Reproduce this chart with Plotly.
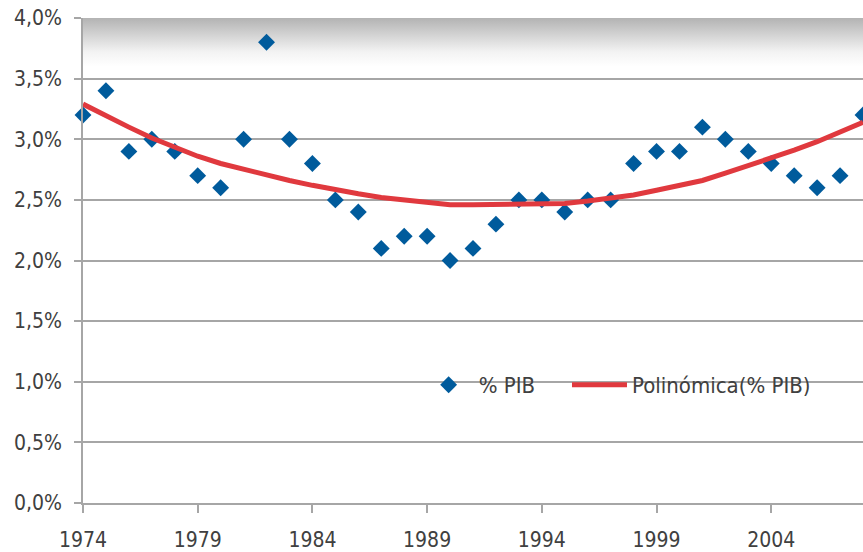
import plotly.graph_objects as go

years = list(range(1974, 2009))
pib = [3.2, 3.4, 2.9, 3.0, 2.9, 2.7, 2.6, 3.0, 3.8, 3.0,
       2.8, 2.5, 2.4, 2.1, 2.2, 2.2, 2.0, 2.1, 2.3, 2.5,
       2.5, 2.4, 2.5, 2.5, 2.8, 2.9, 2.9, 3.1, 3.0, 2.9,
       2.8, 2.7, 2.6, 2.7, 3.2]
trend = [3.29, 3.19, 3.10, 3.01, 2.93, 2.86, 2.80, 2.75, 2.70, 2.66,
         2.62, 2.58, 2.55, 2.52, 2.50, 2.48, 2.46, 2.46, 2.46, 2.46,
         2.46, 2.47, 2.49, 2.51, 2.54, 2.58, 2.62, 2.66, 2.72, 2.78,
         2.84, 2.91, 2.98, 3.06, 3.14]
band_x = [1974, 2008, 2008, 1974, 1974]
band_y = [3.6, 3.6, 4.0, 4.0, 3.6]
x_ticks = [1974, 1979, 1984, 1989, 1994, 1999, 2004]
y_ticks = [0, 0.5, 1.0, 1.5, 2.0, 2.5, 3.0, 3.5, 4.0]
y_labels = ["0,0%", "0,5%", "1,0%", "1,5%", "2,0%", "2,5%", "3,0%", "3,5%", "4,0%"]

FONT = "DejaVu Sans Condensed, Liberation Sans, sans-serif"

fig = go.Figure()
fig.add_trace(go.Scatter(
    x=band_x, y=band_y, mode="none", fill="toself",
    fillgradient=dict(type="vertical",
                      colorscale=[[0, "#ffffff"], [0.3, "#f3f3f3"], [1, "#b3b3b3"]]),
    showlegend=False, hoverinfo="skip"))
fig.add_trace(go.Scatter(
    x=years, y=pib, mode="markers", name="% PIB", cliponaxis=False,
    marker=dict(symbol="diamond", size=13, color="#005b9c"), legend="legend"))
fig.add_trace(go.Scatter(
    x=years, y=trend, mode="lines", name="Polinómica(% PIB)",
    line=dict(color="#e0393e", width=5), legend="legend2"))

leg_common = dict(orientation="h", yanchor="middle", xanchor="left",
                  bgcolor="rgba(0,0,0,0)", font=dict(size=22))

fig.update_layout(
    width=863, height=552,
    margin=dict(l=83, r=0, t=18, b=49, autoexpand=False),
    paper_bgcolor="white", plot_bgcolor="white",
    font=dict(family=FONT, size=21, color="#404040"),
    legend=dict(x=0.4303, y=0.2433, itemwidth=50, **leg_common),
    legend2=dict(x=0.6205, y=0.2433, itemwidth=55, **leg_common),
    xaxis=dict(range=[1974, 2008], tickvals=x_ticks, ticktext=[str(v) for v in x_ticks],
               showgrid=False, showline=True, linecolor="#a6a6a6", linewidth=1.5,
               ticks="outside", ticklen=8, tickcolor="#a6a6a6", tickwidth=1.5,
               zeroline=False, automargin=False, ticklabelstandoff=9,
               ticklabeloverflow="allow"),
    yaxis=dict(range=[0, 4.0], tickvals=y_ticks, ticktext=y_labels,
               showgrid=True, gridcolor="#a6a6a6", gridwidth=1.5,
               showline=True, linecolor="#a6a6a6", linewidth=1.5,
               ticks="outside", ticklen=7, tickcolor="#a6a6a6", tickwidth=1.5,
               zeroline=False, automargin=False, ticklabelstandoff=8,
               ticklabeloverflow="allow"),
)

fig.write_html("out.html", config={"displayModeBar": False},
               post_script="document.body.style.margin='0';document.body.style.overflow='hidden';")
